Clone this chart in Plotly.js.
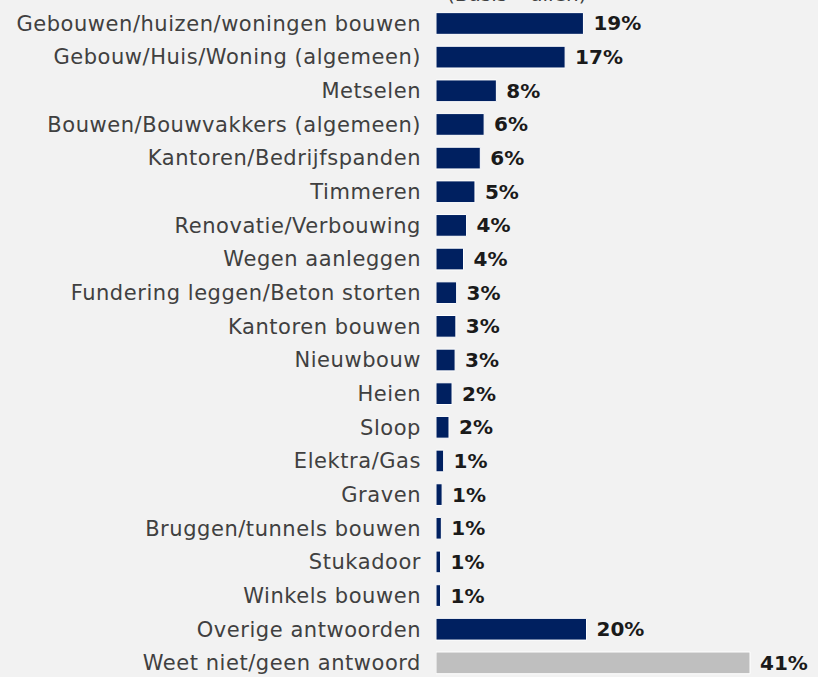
<!DOCTYPE html>
<html>
<head>
<meta charset="utf-8">
<script src="https://cdn.plot.ly/plotly-3.0.1.min.js"></script>
<style>
html,body{margin:0;padding:0;background:#f2f2f2;}
#chart{width:818px;height:677px;}
#chart .ytick text{letter-spacing:0.55px;}
</style>
</head>
<body>
<div id="chart"></div>
<script>
const categories = [
  "Gebouwen/huizen/woningen bouwen",
  "Gebouw/Huis/Woning (algemeen)",
  "Metselen",
  "Bouwen/Bouwvakkers (algemeen)",
  "Kantoren/Bedrijfspanden",
  "Timmeren",
  "Renovatie/Verbouwing",
  "Wegen aanleggen",
  "Fundering leggen/Beton storten",
  "Kantoren bouwen",
  "Nieuwbouw",
  "Heien",
  "Sloop",
  "Elektra/Gas",
  "Graven",
  "Bruggen/tunnels bouwen",
  "Stukadoor",
  "Winkels bouwen",
  "Overige antwoorden",
  "Weet niet/geen antwoord"
];
const values = [19.3, 16.9, 7.9, 6.3, 5.8, 5.1, 4.0, 3.6, 2.7, 2.6, 2.5, 2.1, 1.7, 1.0, 0.8, 0.7, 0.6, 0.6, 19.7, 41.1];
const valueLabels = ["19%","17%","8%","6%","6%","5%","4%","4%","3%","3%","3%","2%","2%","1%","1%","1%","1%","1%","20%","41%"];
const basisNote = "(Basis= allen)";

const colors = categories.map((c, i) => i === categories.length - 1 ? "#bfbfbf" : "#002060");
const FONT = "DejaVu Sans, Noto Sans, sans-serif";

const trace = {
  type: "bar",
  orientation: "h",
  x: values,
  y: categories,
  text: valueLabels,
  textposition: "outside",
  constraintext: "none",
  texttemplate: " %{text}",
  cliponaxis: false,
  textfont: {family: FONT, size: 20, color: "#1a1a1a", weight: "bold"},
  marker: {color: colors, line: {color: "#ffffff", width: 1}},
  hoverinfo: "none"
};

const layout = {
  width: 818, height: 677,
  paper_bgcolor: "#f2f2f2", plot_bgcolor: "#f2f2f2",
  margin: {l: 436, r: 0, t: 0, b: 0, pad: 0},
  bargap: 0.355,
  showlegend: false,
  xaxis: {range: [0, 50], visible: false, showgrid: false, zeroline: false, fixedrange: true},
  yaxis: {
    type: "category",
    range: [19.42, -0.698],
    showgrid: false, zeroline: false, showline: false,
    ticks: "", ticklabelstandoff: 14,
    tickfont: {family: FONT, size: 21, color: "#404040"},
    fixedrange: true
  },
  annotations: [{
    text: basisNote, xref: "paper", yref: "paper", x: 0.21, y: 1,
    xanchor: "center", yanchor: "bottom", yshift: -8, showarrow: false,
    font: {family: FONT, size: 20, color: "#404040"}
  }],
  font: {family: FONT}
};

Plotly.newPlot("chart", [trace], layout, {displayModeBar: false, staticPlot: true});
</script>
</body>
</html>
